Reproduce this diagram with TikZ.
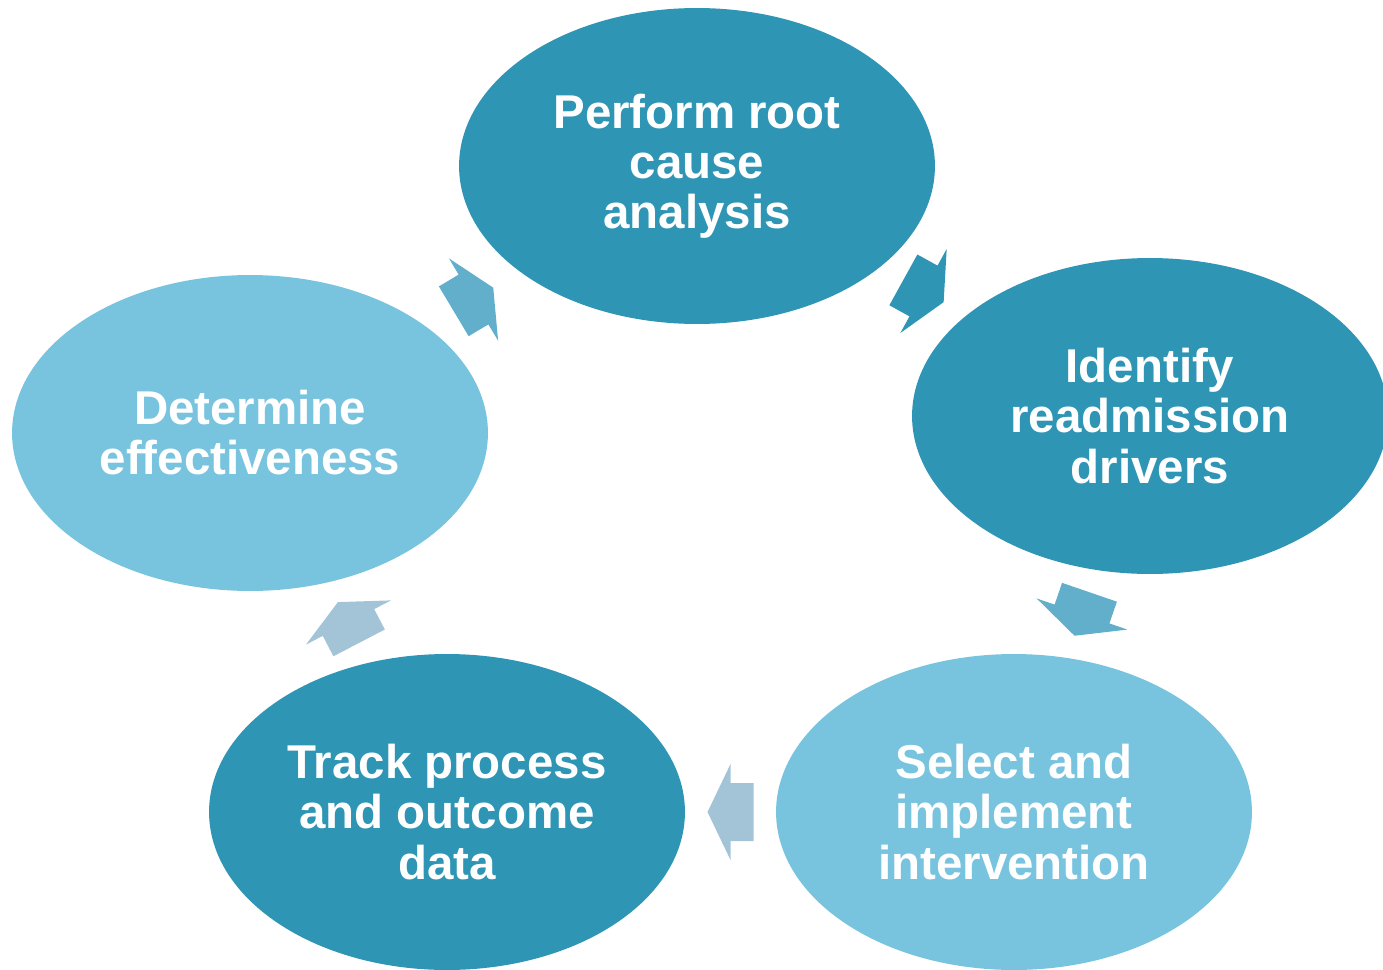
\documentclass[tikz,border=0pt]{standalone}
\usepackage{fontspec}
\setmainfont{Liberation Sans}
\usetikzlibrary{calc,shapes.geometric}
\definecolor{stepdark}{HTML}{2E95B5}
\definecolor{steplight}{HTML}{78C4DE}
\definecolor{arrowmid}{HTML}{62AFCC}
\definecolor{arrowpale}{HTML}{A3C4D7}
% block arrow halfway between two step nodes, pointing from #2 to #3
\newcommand{\cyclearrow}[3]{%
  \path ($(#2)!0.5!(#3)$) coordinate (m)
        ($(m)!-0.46cm!(#3)$) coordinate (back);
  \fill[#1] ($(m)!0.46cm!(#3)$)
    -- ($(m)!0.96cm!90:(#3)$) -- ($(m)!0.58cm!90:(#3)$)
    -- ($(back)!0.58cm!90:(#3)$) -- ($(back)!0.58cm!-90:(#3)$)
    -- ($(m)!0.58cm!-90:(#3)$) -- ($(m)!0.96cm!-90:(#3)$) -- cycle;
}

\begin{document}
\begin{tikzpicture}[x=0.02cm,y=-0.02cm,
  stepnode/.style={ellipse,inner sep=0pt,minimum width=9.52cm,minimum height=6.32cm,
    align=center,text=white,font=\bfseries\fontsize{27}{28.5}\selectfont}]
  \useasboundingbox (0,0) rectangle (1383,970);
  \node[stepnode,fill=stepdark] (root) at (697,166) {Perform root\\cause\\analysis};
  \node[stepnode,fill=stepdark] (drivers) at (1150,416) {Identify\\readmission\\drivers};
  \node[stepnode,fill=steplight] (interv) at (1014,812) {Select and\\implement\\intervention};
  \node[stepnode,fill=stepdark] (track) at (447,812) {Track process\\and outcome\\data};
  \node[stepnode,fill=steplight] (effect) at (250,433) {Determine\\effectiveness};
  % arrows around the cycle
  \cyclearrow{stepdark}{root}{drivers}
  \cyclearrow{arrowmid}{drivers}{interv}
  \cyclearrow{arrowpale}{interv}{track}
  \cyclearrow{arrowpale}{track}{effect}
  \cyclearrow{arrowmid}{effect}{root}
\end{tikzpicture}
\end{document}
